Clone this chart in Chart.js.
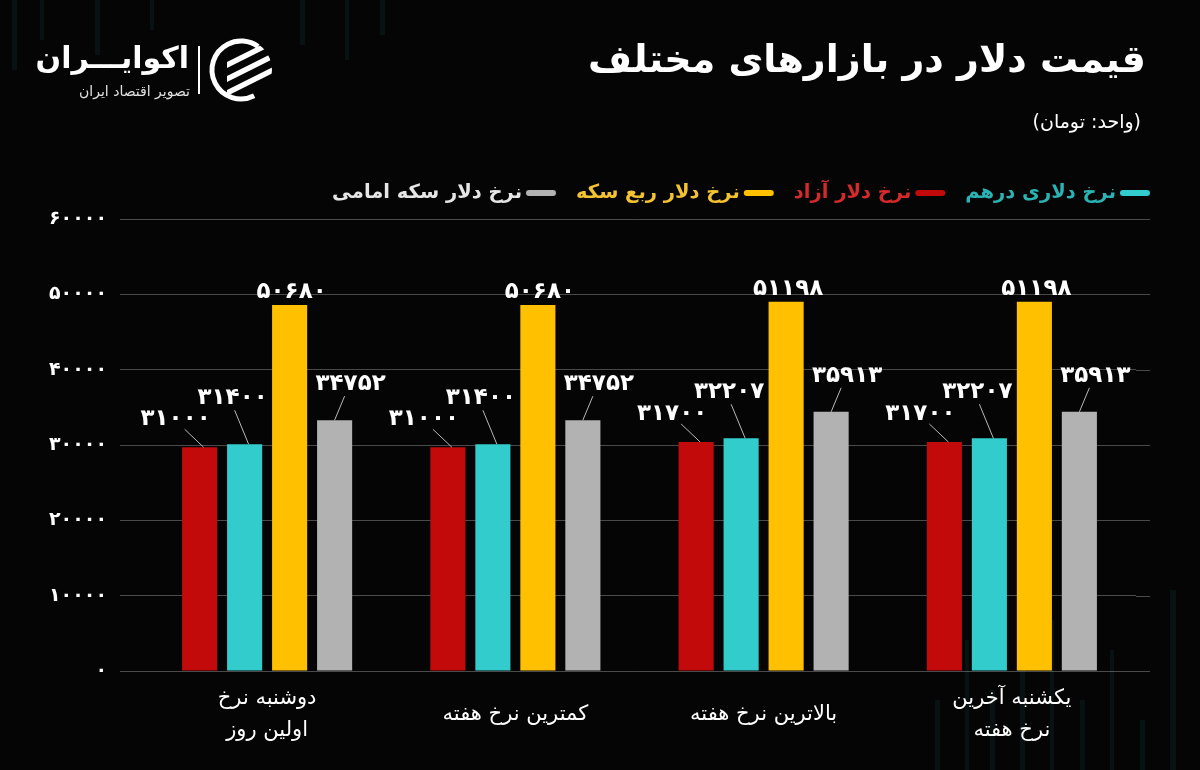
<!DOCTYPE html>
<html lang="fa">
<head>
<meta charset="utf-8">
<title>قیمت دلار در بازارهای مختلف</title>
<script src="https://cdn.jsdelivr.net/npm/chart.js@4.4.1/dist/chart.umd.min.js"></script>
<style>
  html, body { margin: 0; padding: 0; background: #050505; }
  #wrap { width: 1200px; height: 770px; position: relative; }
</style>
</head>
<body>
<div id="wrap"><canvas id="dollarChart" width="1200" height="770" dir="rtl"></canvas></div>
<script>
const categories = [['دوشنبه نرخ', 'اولین روز'], 'کمترین نرخ هفته', 'بالاترین نرخ هفته', ['یکشنبه آخرین', 'نرخ هفته']];
const seriesNames = ['نرخ دلار آزاد', 'نرخ دلاری درهم', 'نرخ دلار ربع سکه', 'نرخ دلار سکه امامی'];

// bar heights as they are drawn in the picture
const freeRate = [29700, 29700, 30400, 30400];
const dirhamRate = [30100, 30100, 30900, 30900];
const quarterCoinRate = [48600, 48600, 49000, 49000];
const emamiCoinRate = [33300, 33300, 34400, 34400];

// numbers printed above the bars
const freeLabels = [31000, 31000, 31700, 31700];
const dirhamLabels = [31400, 31400, 32207, 32207];
const quarterCoinLabels = [50680, 50680, 51198, 51198];
const emamiCoinLabels = [34752, 34752, 35913, 35913];

const yMin = 0, yMax = 60000, yStep = 10000;

const FONT = '"DejaVu Sans", sans-serif';
const barColors = ['#c20a0a', '#33cccc', '#ffc000', '#b2b2b2'];
const legendTextColors = ['#d42a2a', '#2bb3b3', '#f5c232', '#e6e6e6'];
const legendOrder = [1, 0, 2, 3]; // right to left
const allLabels = [freeLabels, dirhamLabels, quarterCoinLabels, emamiCoinLabels];

// where each value label sits relative to its bar top, and its leader line
const labelStyle = [
  { dx: -24, dy: -28, line: [-15, -18, 4, 0] },
  { dx: -12, dy: -46, line: [-10, -34, 4, 0] },
  { dx: 2, dy: -13, line: null },
  { dx: 16, dy: -36, line: [10, -24, 0, 0] }
];

const fa = v => String(v).replace(/\d/g, d => '۰۱۲۳۴۵۶۷۸۹'[d]);

const backdrop = {
  id: 'backdrop',
  beforeDraw(chart) {
    const ctx = chart.ctx;
    ctx.save();
    ctx.fillStyle = '#050505';
    ctx.fillRect(0, 0, chart.width, chart.height);
    // faint streaks
    ctx.fillStyle = 'rgba(30, 75, 80, 0.18)';
    [[12, 0, 5, 70], [40, 0, 4, 40], [95, 0, 5, 55], [150, 0, 4, 30], [300, 0, 5, 45], [345, 0, 4, 60], [380, 0, 5, 35]]
      .forEach(r => ctx.fillRect(...r));
    [[935, 700, 5, 70], [965, 640, 4, 130], [990, 690, 5, 80], [1020, 660, 5, 110], [1050, 620, 4, 150],
     [1080, 700, 5, 70], [1110, 650, 4, 120], [1140, 720, 5, 50], [1170, 590, 6, 180]]
      .forEach(r => ctx.fillRect(...r));
    ctx.restore();
  },
  beforeDatasetsDraw(chart) {
    // gridlines run a little past the last group
    const ctx = chart.ctx, y = chart.scales.y, area = chart.chartArea;
    ctx.save();
    ctx.strokeStyle = 'rgba(255,255,255,0.28)';
    ctx.lineWidth = 1;
    y.ticks.forEach(t => {
      const py = Math.round(y.getPixelForValue(t.value)) + 0.5;
      ctx.beginPath();
      ctx.moveTo(area.right, py);
      ctx.lineTo(area.right + 14, py);
      ctx.stroke();
    });
    ctx.restore();
  }
};

const header = {
  id: 'header',
  afterDraw(chart) {
    const ctx = chart.ctx;
    ctx.save();
    ctx.direction = 'rtl';
    ctx.textBaseline = 'middle';
    ctx.textAlign = 'right';

    ctx.fillStyle = '#ffffff';
    ctx.font = 'bold 38px ' + FONT;
    ctx.fillText('قیمت دلار در بازارهای مختلف', 1146, 62);
    ctx.font = '19px ' + FONT;
    ctx.fillText('(واحد: تومان)', 1141, 123);

    // legend
    ctx.font = 'bold 19.5px ' + FONT;
    let xr = 1150;
    legendOrder.forEach(i => {
      ctx.fillStyle = barColors[i];
      ctx.beginPath();
      ctx.roundRect(xr - 30, 190, 30, 6, 3);
      ctx.fill();
      xr -= 34;
      ctx.fillStyle = legendTextColors[i];
      ctx.fillText(chart.data.datasets[i].label, xr, 193);
      xr -= ctx.measureText(chart.data.datasets[i].label).width + 20;
    });

    // logo
    ctx.fillStyle = '#ffffff';
    ctx.font = 'bold 30px ' + FONT;
    ctx.fillText('اکوایـــران', 189, 60);
    ctx.font = '14px ' + FONT;
    ctx.fillStyle = '#e0e0e0';
    ctx.fillText('تصویر اقتصاد ایران', 190, 92);
    ctx.strokeStyle = '#ffffff';
    ctx.lineWidth = 2;
    ctx.beginPath();
    ctx.moveTo(199, 46);
    ctx.lineTo(199, 94);
    ctx.stroke();
    const cx = 241, cy = 70, r = 29;
    ctx.lineWidth = 5;
    ctx.beginPath();
    ctx.arc(cx, cy, r, Math.PI * 0.35, Math.PI * 1.7);
    ctx.stroke();
    ctx.save();
    ctx.beginPath();
    ctx.arc(cx, cy, r + 2, 0, Math.PI * 2);
    ctx.clip();
    ctx.fillStyle = '#ffffff';
    [-16, -2, 12].forEach(o => {
      ctx.beginPath();
      ctx.moveTo(cx - 14, cy + o + 8);
      ctx.lineTo(cx + 34, cy + o - 16);
      ctx.lineTo(cx + 34, cy + o - 10);
      ctx.lineTo(cx - 14, cy + o + 14);
      ctx.closePath();
      ctx.fill();
    });
    ctx.restore();
    ctx.restore();
  }
};

const valueLabels = {
  id: 'valueLabels',
  afterDatasetsDraw(chart) {
    const ctx = chart.ctx;
    ctx.save();
    ctx.font = 'bold 23px ' + FONT;
    ctx.textAlign = 'center';
    ctx.textBaseline = 'middle';
    chart.data.datasets.forEach((ds, i) => {
      const st = labelStyle[i];
      chart.getDatasetMeta(i).data.forEach((bar, j) => {
        if (st.line) {
          ctx.strokeStyle = '#b8b8b8';
          ctx.lineWidth = 1;
          ctx.beginPath();
          ctx.moveTo(bar.x + st.line[0], bar.y + st.line[1]);
          ctx.lineTo(bar.x + st.line[2], bar.y + st.line[3]);
          ctx.stroke();
        }
        ctx.fillStyle = '#ffffff';
        ctx.fillText(fa(allLabels[i][j]), bar.x + st.dx, bar.y + st.dy);
      });
    });
    ctx.restore();
  }
};

const ctx = document.getElementById('dollarChart').getContext('2d');
const dollarChart = new Chart(ctx, {
  type: 'bar',
  data: {
    labels: categories,
    datasets: [
      { label: seriesNames[0], data: freeRate, backgroundColor: barColors[0] },
      { label: seriesNames[1], data: dirhamRate, backgroundColor: barColors[1] },
      { label: seriesNames[2], data: quarterCoinRate, backgroundColor: barColors[2] },
      { label: seriesNames[3], data: emamiCoinRate, backgroundColor: barColors[3] }
    ]
  },
  options: {
    responsive: false,
    animation: false,
    devicePixelRatio: 1,
    layout: { padding: { top: 219, right: 64, left: 0, bottom: 0 } },
    datasets: { bar: { categoryPercentage: 0.725, barPercentage: 0.78 } },
    plugins: {
      legend: { display: false },
      tooltip: { enabled: false }
    },
    scales: {
      x: {
        grid: { display: false },
        border: { display: false },
        afterFit: s => { s.height = 99; },
        ticks: {
          color: '#ffffff',
          font: { family: FONT, size: 21, lineHeight: 1.5 },
          crossAlign: 'center',
          padding: 20,
          maxRotation: 0,
          autoSkip: false
        }
      },
      y: {
        min: yMin,
        max: yMax,
        border: { display: false },
        afterFit: s => { s.width = 143; },
        grid: {
          color: 'rgba(255,255,255,0.28)',
          lineWidth: 1,
          drawTicks: true,
          tickLength: 23,
          tickColor: 'rgba(255,255,255,0.28)'
        },
        ticks: {
          stepSize: yStep,
          padding: 13,
          color: '#ffffff',
          font: { family: FONT, size: 19, weight: 'bold' },
          callback: v => fa(v)
        }
      }
    }
  },
  plugins: [backdrop, header, valueLabels]
});
</script>
</body>
</html>
